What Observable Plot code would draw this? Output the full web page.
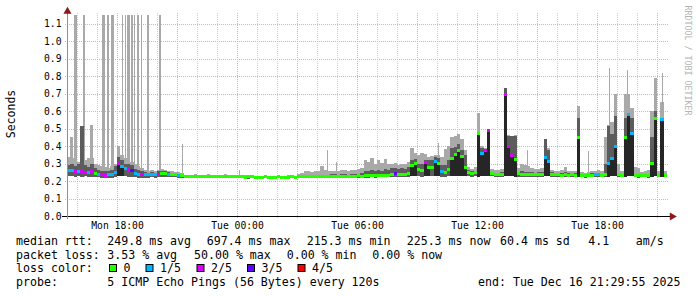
<!DOCTYPE html>
<html><head><meta charset="utf-8">
<script src="https://cdn.jsdelivr.net/npm/d3@7"></script>
<script src="https://cdn.jsdelivr.net/npm/@observablehq/plot@0.6"></script>
<style>
html,body{margin:0;padding:0;background:#fff;}
#chart{width:697px;height:297px;overflow:hidden;}
</style></head><body><div id="chart"></div>
<script>
// ---- data ----
const startTime = "2025-12-15T15:30Z";
const endTime = "2025-12-16T21:30Z";
const stepMinutes = 10;
const medianMs = [
258,262,255,252,256,250,248,252,245,240,238,232,235,240,248,
300,285,272,268,262,245,240,238,236,235,238,236,240,245,242,
240,238,236,234,230,
226,225,224,225,226,224,223,225,224,225,223,224,225,224,223,224,
224,223,222,223,224,222,221,222,223,222,221,222,223,222,221,222,223,222,224,223,
224,225,223,224,225,226,224,225,226,228,226,227,228,226,228,227,229,228,230,229,231,230,232,231,233,
234,236,245,236,238,240,245,290,300,265,262,305,280,275,310,300,255,250,265,330,350,375,340,280,250,245,250,
470,355,375,490,242,240,238,240,696,400,345,325,242,240,238,240,238,236,238,240,335,310,240,238,
236,234,235,233,236,234,
450,232,230,232,234,236,235,232,240,300,330,395,235,232,450,580,470,232,230,232,231,230,300,560,232,550,232];
const lossCount = [
1,1,2,1,2,2,1,2,0,1,2,2,1,1,1,
2,1,1,2,3,1,1,2,1,1,1,1,2,0,0,
1,0,0,1,0,
0,0,0,0,0,0,0,0,0,0,0,0,0,0,0,0,
0,0,0,0,0,0,0,0,0,0,0,0,0,0,0,0,0,0,0,0,
0,0,0,0,0,0,0,0,0,0,0,0,0,0,0,0,0,0,0,0,0,0,0,0,0,
0,0,3,0,0,0,0,0,0,0,0,2,0,0,1,0,1,0,0,0,0,0,0,0,0,0,0,
0,1,2,2,0,0,0,0,2,2,2,0,0,0,0,0,0,0,0,0,1,1,0,0,
0,0,0,0,0,0,
0,0,0,0,0,1,1,0,0,1,1,1,0,0,0,1,1,0,0,0,0,0,0,0,0,1,0];
const lowMs = [
228,230,225,228,225,226,224,225,222,222,220,218,220,220,222,
230,228,226,224,224,222,220,220,220,220,222,220,222,225,224,
224,222,222,220,218,
216,215,216,216,215,216,215,216,216,215,216,216,215,216,216,215,
215,216,215,214,216,215,214,215,216,215,214,215,216,215,214,215,216,215,216,215,
216,217,215,216,217,218,216,217,218,219,218,218,219,217,219,218,220,219,220,219,221,220,222,221,222,
222,223,224,222,223,224,225,228,230,226,225,228,226,226,228,226,224,222,226,228,228,230,228,228,226,224,226,
225,228,230,228,226,225,224,225,226,228,226,225,224,224,223,224,223,222,224,224,226,226,224,223,
222,222,222,221,222,222,
222,221,220,221,222,222,222,221,222,224,226,226,222,221,224,226,226,221,220,221,221,220,222,226,221,224,221];
const darkMs = [
290,300,285,300,515,290,280,300,275,265,260,255,258,265,285,
340,320,300,295,290,270,262,255,250,248,250,248,255,258,255,
250,248,245,242,238,
232,231,230,231,232,230,229,231,230,231,229,230,231,230,229,230,
230,229,228,229,230,228,227,228,229,228,227,228,229,228,227,228,229,228,230,229,
232,233,231,232,233,234,232,233,238,240,236,240,238,236,240,238,242,245,260,255,265,255,262,258,270,
265,272,275,268,275,270,280,320,325,295,300,320,320,320,340,330,290,290,320,390,395,410,380,350,265,255,260,
480,390,385,496,250,248,246,250,730,460,455,460,250,255,250,252,250,248,250,252,440,380,250,248,
245,244,250,243,246,244,
560,242,240,242,244,248,246,242,300,515,470,570,245,242,560,590,560,242,240,242,241,240,450,600,242,560,242];
const highMs = [
340,330,320,310,515,320,330,330,300,290,285,280,275,285,300,
400,350,330,320,310,300,285,275,265,260,262,258,265,268,262,
260,255,252,250,245,
236,235,234,238,236,234,233,240,234,236,233,234,238,234,233,235,
232,233,232,230,232,230,228,230,232,230,230,228,232,230,230,236,232,230,240,245,
255,258,252,255,260,285,262,258,255,260,258,262,265,258,262,265,270,275,320,310,330,300,318,305,325,
295,300,305,290,300,295,310,390,360,350,360,355,340,345,350,350,340,385,400,450,460,470,440,380,280,270,280,
590,400,390,500,270,265,262,268,730,465,460,465,275,300,290,285,275,270,268,272,440,390,262,260,
255,262,280,258,256,255,
630,250,248,252,255,260,262,258,450,520,540,700,300,255,700,700,620,280,275,250,258,262,600,787,255,650,255];
const spikeTimes = [
"2025-12-15T15:39","2025-12-15T15:51","2025-12-15T16:18","2025-12-15T16:39","2025-12-15T17:15",
"2025-12-15T17:30","2025-12-15T17:42","2025-12-15T18:15","2025-12-15T18:24","2025-12-15T18:30",
"2025-12-15T18:42","2025-12-15T18:51","2025-12-15T19:00","2025-12-15T19:12","2025-12-15T19:30",
"2025-12-15T20:06","2025-12-15T21:15","2025-12-16T00:06","2025-12-16T04:30","2025-12-16T04:57",
"2025-12-16T10:03","2025-12-16T14:30","2025-12-16T17:33","2025-12-16T18:36","2025-12-16T19:30",
"2025-12-16T21:15"];
const spikeWidthMin = [8,9,6,9,9,6,9,3,3,9,6,3,6,3,6,6,3,3,3,3,3,3,3,3,3,3];
const spikeTopMs = [450,1150,1150,520,1150,1150,1150,1150,1150,1150,1150,1150,1150,1150,1150,1150,410,265,376,310,415,376,370,846,833,820];
const yTicks = [0,0.1,0.2,0.3,0.4,0.5,0.6,0.7,0.8,0.9,1.0,1.1];
const yTickLabels = ["0.0","0.1","0.2","0.3","0.4","0.5","0.6","0.7","0.8","0.9","1.0","1.1"];
const xTickTimes = ["2025-12-15T18:00Z","2025-12-16T00:00Z","2025-12-16T06:00Z","2025-12-16T12:00Z","2025-12-16T18:00Z"];
const xTickLabels = ["Mon 18:00","Tue 00:00","Tue 06:00","Tue 12:00","Tue 18:00"];
const lossColors = ["#26ff00","#00b8ff","#dd00ff","#5e00ff","#ff0000"];
const lossLabels = ["0","1/5","2/5","3/5","4/5"];
const rowLabels = ["median rtt:","packet loss:","loss color:","probe:"];
const rttStats = ["249.8 ms avg","697.4 ms max","215.3 ms min","225.3 ms now","60.4 ms sd","4.1","am/s"];
const lossStats = ["3.53 % avg","50.00 % max","0.00 % min","0.00 % now"];
const probeText = "5 ICMP Echo Pings (56 Bytes) every 120s";
const endText = "end: Tue Dec 16 21:29:55 2025";
const yLabel = "Seconds";
const watermark = "RRDTOOL / TOBI OETIKER";

// ---- build ----
const t0 = new Date(startTime), t1 = new Date(endTime);
const buckets = medianMs.map((m, i) => ({
  x1: d3.utcMinute.offset(t0, i * stepMinutes),
  x2: d3.utcMinute.offset(t0, (i + 1) * stepMinutes),
  med: m / 1000, loss: lossCount[i], lo: lowMs[i] / 1000, dk: darkMs[i] / 1000, hi: highMs[i] / 1000
}));
const spikes = spikeTimes.map((s, i) => {
  const t = new Date(s + "Z");
  const idx = Math.floor((t - t0) / (stepMinutes * 60000));
  return {x1: t, x2: d3.utcMinute.offset(t, spikeWidthMin[i]), y1: lowMs[idx] / 1000, y2: spikeTopMs[i] / 1000};
});
const hours = d3.utcHour.range(d3.utcHour.ceil(t0), t1);
const minorHours = hours.filter(h => h.getUTCHours() % 3 !== 0);
const majorHours = hours.filter(h => h.getUTCHours() % 3 === 0);
const yMax = 1.16;
const px = yMax / 203; // one pixel in seconds
const arrowRed = "#8b1a1a";
const gridRed = "#f0a8a8";
const crisp = {shapeRendering: "crispEdges"};
const raised = buckets.filter(d => d.med - d.lo > 0.05);

const svg = Plot.plot({
  width: 697, height: 297,
  marginLeft: 67, marginRight: 30, marginTop: 13, marginBottom: 81,
  x: {type: "utc", domain: [t0, t1], axis: null},
  y: {domain: [0, yMax], axis: null},
  style: {fontFamily: "'DejaVu Sans Mono', monospace", fontSize: "9.7px", background: "#fff", color: "#000"},
  marks: [
    Plot.ruleX(minorHours, {x: d => d, y1: () => -2 * px, y2: () => yMax, stroke: "#d0d0d0", strokeDasharray: "1,1", ...crisp}),
    Plot.ruleX(majorHours, {x: d => d, y1: () => -2 * px, y2: () => yMax, stroke: gridRed, strokeDasharray: "1,1", ...crisp}),
    Plot.ruleY(yTicks.slice(1), {y: d => d, x1: () => d3.utcMinute.offset(t0, -6), x2: () => d3.utcMinute.offset(t1, 6), stroke: gridRed, strokeDasharray: "1,1", ...crisp}),
    Plot.rect(buckets, {x1: "x1", x2: "x2", y1: "lo", y2: "hi", fill: "#a9a9a9", inset: 0, ...crisp}),
    Plot.rect(spikes, {x1: "x1", x2: "x2", y1: "y1", y2: "y2", fill: "#a9a9a9", inset: 0, ...crisp}),
    Plot.rect(buckets, {x1: "x1", x2: "x2", y1: "lo", y2: "dk", fill: "#5c5c5c", inset: 0, ...crisp}),
    Plot.rect(raised, {x1: "x1", x2: "x2", y1: "lo", y2: "med", fill: "#262626", inset: 0, ...crisp}),
    Plot.rect(buckets, {x1: "x1", x2: "x2", y1: d => d.med - 1.5 * px, y2: d => d.med + 1.5 * px, fill: d => lossColors[d.loss], inset: 0, ...crisp}),
    // axes
    Plot.ruleY([0], {x1: () => d3.utcMinute.offset(t0, -15), x2: () => d3.utcMinute.offset(t1, 12), stroke: "#000", ...crisp}),
    Plot.ruleX([t0], {y1: () => -3 * px, y2: () => 205 * px, stroke: "#909090", ...crisp}),
    Plot.dot([t1], {x: () => d3.utcMinute.offset(t1, 14), y: () => 0, symbol: "triangle", rotate: 90, r: 3, fill: arrowRed, stroke: null}),
    Plot.dot([t0], {x: () => t0, y: () => 205 * px, symbol: "triangle", r: 3, fill: arrowRed, stroke: null}),
    // tick labels
    Plot.text(xTickTimes, {x: d => new Date(d), y: () => 0, text: (d, i) => xTickLabels[i], dy: 9, lineAnchor: "middle", textAnchor: "middle", fill: "#000"}),
    Plot.text(yTicks, {x: () => t0, y: d => d, text: (d, i) => yTickLabels[i], dx: -6, textAnchor: "end", lineAnchor: "middle", fill: "#000"}),
    Plot.text([yLabel], {frameAnchor: "left", dx: -56, dy: -1, rotate: -90, textAnchor: "middle", lineAnchor: "middle", fontSize: 11.5, fill: "#000"}),
    Plot.text([watermark], {frameAnchor: "top-right", dx: 20, dy: 47, rotate: 90, textAnchor: "middle", lineAnchor: "middle", fontSize: 8.3, fill: "#b4b4b4"})
  ]
});

// ---- legend below plot ----
const g = d3.select(svg).append("g")
  .attr("font-family", "'DejaVu Sans Mono', monospace").attr("font-size", "11.6px")
  .attr("fill", "#000").attr("text-anchor", "start");
const base = [245, 258.6, 272.2, 285.8];
rowLabels.forEach((t, i) => g.append("text").attr("x", 16).attr("y", base[i]).text(t));
const rttX = [107.3, 206.7, 306.7, 406.7, 500, 588.3, 635.7];
rttStats.forEach((t, i) => g.append("text").attr("x", rttX[i]).attr("y", base[0]).text(t));
const lossX = [107.3, 194, 286.7, 372.3];
lossStats.forEach((t, i) => g.append("text").attr("x", lossX[i]).attr("y", base[1]).text(t));
const boxX = [109, 145.5, 196.5, 247, 297.5];
lossColors.forEach((c, i) => {
  g.append("rect").attr("x", boxX[i] + 0.5).attr("y", 264.5).attr("width", 7).attr("height", 7)
    .attr("fill", c).attr("stroke", "#000").attr("stroke-width", 1);
  g.append("text").attr("x", boxX[i] + 14.5).attr("y", base[2]).text(lossLabels[i]);
});
g.append("text").attr("x", 107.3).attr("y", base[3]).text(probeText);
g.append("text").attr("x", 478).attr("y", base[3]).text(endText);

document.getElementById("chart").appendChild(svg);
</script>
</body></html>
